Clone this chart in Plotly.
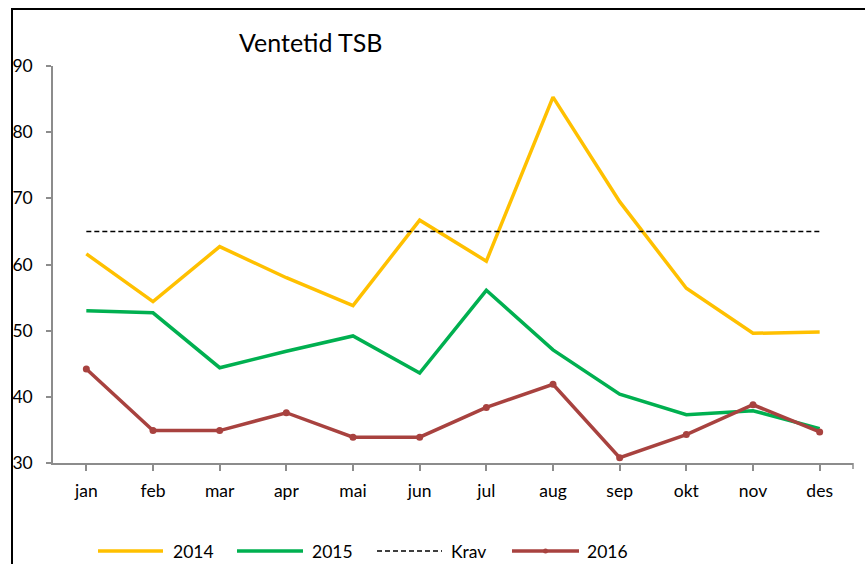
import plotly.graph_objects as go

months = ["jan", "feb", "mar", "apr", "mai", "jun", "jul", "aug", "sep", "okt", "nov", "des"]
v2014 = [61.6, 54.4, 62.7, 58.0, 53.8, 66.7, 60.5, 85.3, 69.5, 56.4, 49.6, 49.8]
v2015 = [53.0, 52.7, 44.4, 46.9, 49.2, 43.6, 56.1, 47.1, 40.4, 37.3, 37.9, 35.2]
krav = [65] * 12
v2016 = [44.2, 34.9, 34.9, 37.6, 33.9, 33.9, 38.4, 41.9, 30.8, 34.3, 38.8, 34.7]
y_ticks = [30, 40, 50, 60, 70, 80, 90]

title = "Ventetid TSB"
FONT = "Lato"
c2014 = "#FFC000"
c2015 = "#00B050"
c2016 = "#A8423F"
axis_col = "#8C8C8C"
LW = 3.5
KRAV_DASH = "5px,3px"

# plot area in pixels
W, H = 865, 564
L, R, T, B = 53, 853, 66, 463


def px(x):
    return (x - L) / (R - L)


def py(y):
    return (B - y) / (B - T)


fig = go.Figure()
fig.add_trace(go.Scatter(x=months, y=v2014, mode="lines", name="2014",
                         line=dict(color=c2014, width=LW)))
fig.add_trace(go.Scatter(x=months, y=v2015, mode="lines", name="2015",
                         line=dict(color=c2015, width=LW)))
fig.add_trace(go.Scatter(x=months, y=krav, mode="lines", name="Krav",
                         line=dict(color="black", width=1.5, dash=KRAV_DASH)))
fig.add_trace(go.Scatter(x=months, y=v2016, mode="lines+markers", name="2016",
                         line=dict(color=c2016, width=LW),
                         marker=dict(color=c2016, size=7, symbol="circle")))

shapes = []
annotations = []

# outer border (left & top)
shapes.append(dict(type="path", xref="paper", yref="paper",
                   path=f"M {px(12)} {py(575)} L {px(12)} {py(9)} L {px(875)} {py(9)}",
                   line=dict(color="black", width=2)))
# end tick on x-axis
shapes.append(dict(type="line", xref="paper", yref="paper",
                   x0=1, x1=1, y0=py(463), y1=py(469),
                   line=dict(color=axis_col, width=1.5)))

# manual legend
legend_items = [
    ("2014", c2014, "solid", LW, False, 98, 163, 171),
    ("2015", c2015, "solid", LW, False, 237, 303, 310),
    ("Krav", "black", KRAV_DASH, 1.5, False, 377, 442, 449),
    ("2016", c2016, "solid", LW, True, 512, 579, 585),
]
ly = py(551)
for name, col, dash, w, mk, x0, x1, xt in legend_items:
    shapes.append(dict(type="line", xref="paper", yref="paper",
                       x0=px(x0), x1=px(x1), y0=ly, y1=ly,
                       line=dict(color=col, width=w, dash=dash)))
    if mk:
        cx = (x0 + x1) / 2
        shapes.append(dict(type="circle", xref="paper", yref="paper",
                           x0=px(cx - 2.5), x1=px(cx + 2.5),
                           y0=py(551 + 2.5), y1=py(551 - 2.5),
                           fillcolor=col, line=dict(color=col, width=0)))
    annotations.append(dict(text=name, xref="paper", yref="paper",
                            x=px(xt), y=ly, xanchor="left", yanchor="middle",
                            showarrow=False, font=dict(family=FONT, size=17.5, color="black")))

annotations.append(dict(text=title, xref="paper", yref="paper",
                        x=px(311), y=py(42), xanchor="center", yanchor="middle",
                        showarrow=False, font=dict(family=FONT, size=25, color="black")))

fig.update_layout(
    width=W, height=H,
    margin=dict(l=L, r=W - R, t=T, b=H - B, pad=0),
    paper_bgcolor="white", plot_bgcolor="white",
    showlegend=False,
    font=dict(family=FONT, size=17.5, color="black"),
    shapes=shapes, annotations=annotations,
    xaxis=dict(type="category", range=[-0.5, 11.5], showgrid=False, zeroline=False,
               showline=True, linecolor=axis_col, linewidth=1.5,
               ticks="outside", ticklen=6, tickcolor=axis_col, tickwidth=1.5,
               tickfont=dict(family=FONT, size=17.5, color="black"),
               ticklabelstandoff=5),
    yaxis=dict(range=[30, 90], tickvals=y_ticks, showgrid=False, zeroline=False,
               showline=True, linecolor=axis_col, linewidth=1.5,
               ticks="outside", ticklen=5, tickcolor=axis_col, tickwidth=1.5,
               tickfont=dict(family=FONT, size=17.5, color="black"),
               ticklabelstandoff=10),
)

fig.write_html("out.html", config={"displayModeBar": False},
               post_script="document.body.style.margin='0';document.body.style.overflow='hidden';")
